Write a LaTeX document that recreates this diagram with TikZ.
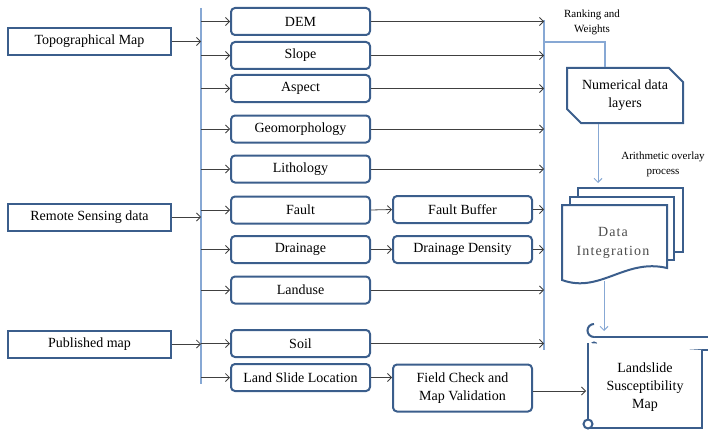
\documentclass[tikz,border=0pt]{standalone}
\usepackage{fontspec}
\setmainfont{Liberation Serif}
\usetikzlibrary{arrows.meta, shapes.misc}
\definecolor{boxblue}{RGB}{59,94,140}
\definecolor{lineblue}{RGB}{135,168,212}
\definecolor{arrgrey}{RGB}{64,64,64}
\begin{document}
\begin{tikzpicture}[x=1pt, y=-1pt,
    every node/.style={inner sep=0pt, font=\rmfamily\fontsize{14}{18}\selectfont, align=center},
    srcbox/.style={draw=boxblue, line width=2pt, minimum width=163pt, minimum height=27pt},
    laybox/.style={draw=boxblue, line width=2pt, rounded corners=4pt, minimum width=139pt, minimum height=27pt},
    arr/.style={draw=arrgrey, line width=0.8pt, -{Straight Barb[length=4pt, width=8pt]}},
    bus/.style={draw=lineblue, line width=1.2pt},
    busarr/.style={draw=lineblue, line width=1pt, -{Straight Barb[length=4pt, width=8pt]}},
    shp/.style={draw=boxblue, line width=2pt, fill=white},
    note/.style={font=\rmfamily\fontsize{11}{15}\selectfont}]
      \useasboundingbox (0,0) rectangle (708,433);
      % sources
      \node[srcbox] (topo) at (89.5, 41.5) {Topographical Map};
      \node[srcbox] (rsd) at (89.5, 217) {Remote Sensing data};
      \node[srcbox] (pub) at (89.5, 344) {Published map};
      % layers
      \node[laybox] (dem) at (300.5, 21.5) {DEM};
      \node[laybox] (slope) at (300.5, 55.5) {Slope};
      \node[laybox] (aspect) at (300.5, 88.5) {Aspect};
      \node[laybox] (geo) at (300.5, 129) {Geomorphology};
      \node[laybox] (lith) at (300.5, 169) {Lithology};
      \node[laybox] (fault) at (300.5, 210) {Fault};
      \node[laybox] (drain) at (300.5, 249.5) {Drainage};
      \node[laybox] (land) at (300.5, 290) {Landuse};
      \node[laybox] (soil) at (300.5, 343.5) {Soil};
      \node[laybox] (lsl) at (300.5, 377.5) {Land Slide Location};
      \node[laybox] (fbuf) at (462.5, 209.5) {Fault Buffer};
      \node[laybox] (ddens) at (462.5, 249.5) {Drainage Density};
      \node[laybox, minimum height=47pt] (fcheck) at (462.5, 388) {Field Check and\\Map Validation};
      % buses
      \coordinate (b1top) at (201, 8);
      \coordinate (b1bot) at (201, 384);
      \coordinate (b2top) at (544, 20);
      \coordinate (b2bot) at (544, 350);
      \draw[bus] (b1top) -- (b1bot);
      \draw[bus] (b2top) -- (b2bot);
      \draw[arr] (topo.east) -- (topo.east -| b1top);
      \draw[arr] (rsd.east) -- (rsd.east -| b1top);
      \draw[arr] (pub.east) -- (pub.east -| b1top);
      \foreach \n in {dem, slope, aspect, geo, lith, fault, drain, land, soil, lsl}
        \draw[arr] (\n.west -| b1top) -- (\n.west);
      \foreach \n in {dem, slope, aspect, geo, lith, land, soil, fbuf, ddens}
        \draw[arr] (\n.east) -- (\n.east -| b2top);
      \draw[arr] (fault.east) -- (fbuf.west);
      \draw[arr] (drain.east) -- (ddens.west);
      \draw[arr] (lsl.east) -- (lsl.east -| fcheck.west);
      % numerical data layers
      \node[note] (rank) at (592, 22.5) {Ranking and\\Weights};
      \node[shp, chamfered rectangle, chamfered rectangle corners={north east, south west},
        chamfered rectangle xsep=7pt, chamfered rectangle ysep=7pt,
        minimum width=116pt, minimum height=55pt] (num) at (625, 95.5) {Numerical data\\layers};
      \coordinate (rk) at (605, 42);
      \draw[bus] (rk -| b2top) -- (rk) -- (rk |- num.north);
      % data integration
      \node[note] (ovl) at (663, 164) {Arithmetic overlay\\process};
      \coordinate (ovlend) at (598, 183);
      \draw[busarr] ([xshift=-27pt]num.south) -- (ovlend);
      \draw[shp] (578,188) rectangle (683,252);
      \draw[shp] (570,197) rectangle (674,260);
      \draw[shp] (562,205) -- (667,205) -- (667,268) .. controls (625,258) and (600,294) .. (562,280) -- cycle;
      \node[text=black!70, font=\rmfamily\fontsize{14}{19}\selectfont\addfontfeatures{LetterSpace=8}] (integ) at (613, 243) {Data\\Integration};
      % susceptibility map
      \coordinate (dibot) at (604, 281);
      \coordinate (lsmtop) at (604, 331);
      \draw[busarr] (dibot) -- (lsmtop);
      \draw[shp] (594,337) -- (712,337) -- (712,350) -- (594,350);
      \draw[shp] (594,337) arc (90:270:6.5) (594,345) circle (2.5);
      \draw[shp] (588,343) -- (588,428) -- (702,428) -- (702,350);
      \draw[shp] (588,424) circle (4.5);
      \node (lsm) at (645, 387) {Landslide\\Susceptibility\\Map};
      \coordinate (lsmin) at (586, 391);
      \draw[arr] (fcheck.east |- lsmin) -- (lsmin);
\end{tikzpicture}
\end{document}
